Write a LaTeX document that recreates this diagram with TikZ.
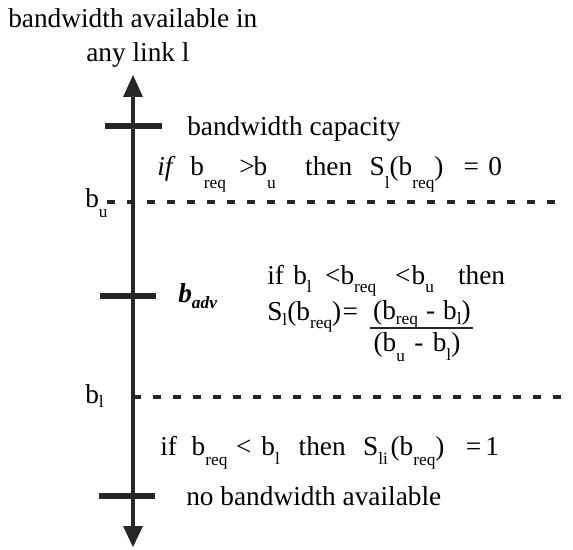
\documentclass[tikz,border=0pt]{standalone}
\usepackage{fontspec}
\setmainfont{Liberation Serif}
\newcommand{\sbs}[2][10pt]{\raisebox{-#1}{\fontsize{13pt}{13pt}\selectfont #2}}
\tikzset{
  txt/.style={anchor=base west, inner sep=0pt, font=\fontsize{20.5pt}{24pt}\selectfont},
  tickmark/.style={line width=4.5pt},
  axisline/.style={line width=3pt},
  dashln/.style={line width=2.6pt, dash pattern=on 6pt off 9pt},
  head/.style={fill=black!85, draw=none},
}
\begin{document}
\begin{tikzpicture}[x=0.75pt,y=-0.75pt]
\useasboundingbox (0,0) rectangle (573,549);
% axis
\coordinate (top) at (133,75);
\coordinate (bot) at (133,547);
\draw[axisline, black!85] (133,95) -- (133,528);
\fill[head] (top) -- (123,97) -- (143,97) -- cycle;
\fill[head] (bot) -- (123,526) -- (143,526) -- cycle;
% ticks
\draw[tickmark, black!85] (105,126) -- (162,126);
\draw[tickmark, black!85] (100,296) -- (156,296);
\draw[tickmark, black!85] (99,496) -- (155,496);
% dashed lines
\draw[dashln, black!85] (107,202) -- (562,202);
\draw[dashln, black!85] (133,397) -- (573,397);
% texts
\node[txt] (t1) at (8,28) {bandwidth available in};
\node[txt] (t2) at (86,62) {any link l};
\node[txt] (cap) at (187,135) {bandwidth capacity};
\node[txt] (c1) at (157,175) {\textit{if}\hspace{11pt}b\sbs{req}\hspace{10pt}>\hspace{-1pt}b\sbs{u}\hspace{22pt}then\hspace{13pt}S\sbs{l}(b\sbs{req})\hspace{15pt}=\hspace{7pt}0};
\node[txt] (bu) at (85,207) {b\sbs[8pt]{u}};
\node[txt] (badv) at (178,302) {\textbf{\textit{b\sbs[5pt]{adv}}}};
\node[txt] (c2) at (267,284) {if\hspace{7pt}b\sbs[6pt]{l}\hspace{10pt}<\hspace{0pt}b\sbs[6pt]{req}\hspace{14pt}<\hspace{1pt}b\sbs[6pt]{u}\hspace{18pt}then};
\node[txt] (c3) at (267,320) {S\sbs[4pt]{l}(b\sbs[6pt]{req})\hspace{1pt}=\hspace{1pt}};
\node[txt, anchor=base east] (num) at (471,319) {(b\sbs[4pt]{req}\hspace{6pt}-\hspace{6pt}b\sbs[4pt]{l})};
\draw[line width=1.5pt, black!85] (370,328) -- (473,328);
\node[txt, anchor=base] (den) at (417,351) {(b\sbs[7.5pt]{u}\hspace{7pt}-\hspace{7pt}b\sbs[7pt]{l})};
\node[txt] (bl) at (85,403) {b\sbs[3pt]{l}};
\node[txt] (c4) at (160,455) {if\hspace{11pt}b\sbs[7.5pt]{req}\hspace{6.5pt}<\hspace{7.5pt}b\sbs[7pt]{l}\hspace{14pt}then\hspace{13pt}S\sbs[7pt]{li}\hspace{2pt}(b\sbs[7.5pt]{req})\hspace{16pt}=\hspace{3pt}1};
\node[txt] (none) at (186,505) {no bandwidth available};
\end{tikzpicture}
\end{document}
